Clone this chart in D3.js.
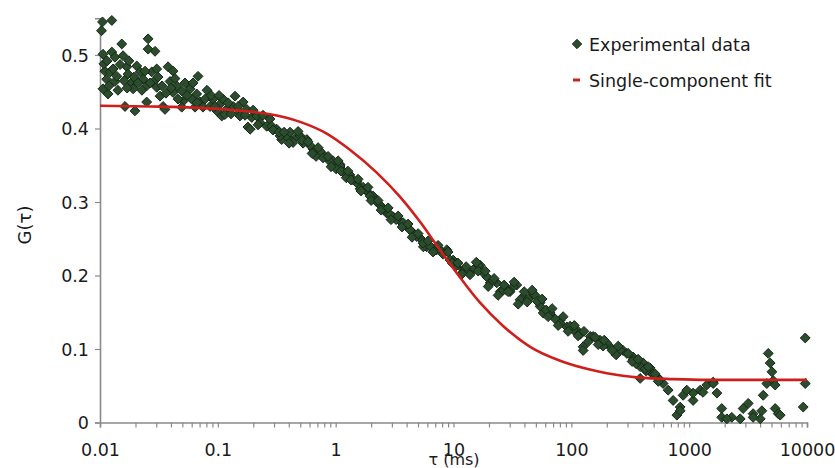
<!DOCTYPE html>
<html>
<head>
<meta charset="utf-8">
<script src="https://cdn.jsdelivr.net/npm/d3@7"></script>
<style>
  body { margin: 0; background: #fff; }
  text { font-family: "DejaVu Sans", Verdana, sans-serif; fill: #1a1a1a; }
</style>
</head>
<body>
<svg id="chart" width="835" height="468"></svg>
<script>
// experimental correlation data: lag time (ms) and G(tau)
const tauData = [
  0.0103, 0.0105, 0.0126, 0.0106, 0.0126, 0.0134, 0.0153, 0.0157, 0.0110, 0.0114,
  0.0122, 0.0134, 0.0139, 0.0106, 0.0117, 0.0169, 0.0173, 0.0186, 0.0191, 0.0163,
  0.0198, 0.0205, 0.0219, 0.0232, 0.0249, 0.0256, 0.0256, 0.0293, 0.0275, 0.0303,
  0.0282, 0.0303, 0.0249, 0.0323, 0.0343, 0.0356, 0.0378, 0.0417, 0.0393, 0.0448,
  0.0417, 0.0494, 0.0507, 0.0494, 0.0581, 0.0600, 0.0679, 0.0662, 0.0706, 0.0748,
  0.0640, 0.0779, 0.0859, 0.0910, 0.0979, 0.1044, 0.1107, 0.119, 0.108, 0.140,
  0.135, 0.154, 0.164, 0.176, 0.180, 0.194, 0.214, 0.228, 0.260, 0.277,
  0.316, 0.348, 0.385, 0.424, 0.468,
  0.115, 0.154, 0.188, 0.287, 0.337, 0.410, 0.499, 0.569, 0.435, 0.643,
  0.738, 0.813, 0.951, 1.09, 1.16, 1.32, 1.51, 1.71, 1.88, 2.08,
  2.38, 2.71, 3.07, 3.52, 4.01, 4.54, 5.20,
  0.643, 1.09, 1.51, 1.96, 2.71, 3.73, 4.88, 5.93, 7.21, 8.77,
  9.93, 12.1, 14.7, 16.8, 19.2, 23.3, 28.3, 34.4, 39.0, 47.4, 54.3,
  5.55, 7.69, 9.35, 12.1, 16.2, 17.8, 20.5, 24.9, 32.1, 36.7,
  49.3, 54.3, 66.1, 80.4, 91.6, 111, 126, 145, 175, 213,
  275, 335, 407, 467,
  57.7, 80.4, 104, 126, 153, 200, 259, 296, 335, 384,
  384, 467, 532, 601, 663, 731, 787, 839, 889, 1080,
  1240, 1410, 1600, 1720, 1890, 1890, 2300, 2710, 2870, 3170,
  3490, 4010, 4140, 4250, 4560, 4690, 4870, 5040, 5170, 5370,
  5370, 5700, 9660, 9660, 9290,
  2090, 3490, 5920, 839, 1080, 955, 1310, 1600,
  186, 240, 355, 432, 494, 567,
  0.529, 0.606, 0.682, 0.896, 1.01, 1.23, 1.41, 1.61, 1.81, 2.20,
  2.53, 2.90, 3.26, 4.28, 6.33, 10.5, 13.3, 21.7, 26.4, 30.2,
  43.0, 61.1, 72.8, 97.7, 119,
  0.0108, 0.0115, 0.0119, 0.0129, 0.0142, 0.0148, 0.0160, 0.0170, 0.0176, 0.0194,
  0.0210, 0.0227, 0.0241, 0.0266, 0.0311, 0.0336, 0.0363, 0.0401, 0.0433, 0.0459,
  0.0527, 0.0548, 0.0616, 0.0666, 0.0809, 0.0876, 0.0947, 0.1024, 0.1221, 0.1294,
  0.1485, 0.1702, 0.1990, 0.2194, 0.2419, 0.2941, 0.3307, 0.3648, 0.4022,
  0.480, 0.519, 0.583, 0.631, 0.709, 0.782, 0.862, 0.914, 1.05, 1.11,
  1.27, 1.35, 1.55, 1.64, 1.88, 2.00, 2.29, 2.43, 2.79, 2.95,
  3.39, 3.66, 4.12, 4.45, 5.01, 5.52, 6.09, 6.71, 7.40, 8.16,
  9.00, 9.73, 10.9, 11.8, 12.8, 13.8, 15.6, 16.2, 18.6, 19.7,
  22.1, 23.9, 26.9, 29.1, 32.7, 35.4, 39.8, 42.2, 46.5, 51.3,
  56.5, 63.5, 68.7, 77.3, 85.2, 93.9, 106, 114, 128, 139,
  159, 169, 190, 222, 250, 304, 328, 369, 423, 449,
  515, 546
];
const gData = [
  0.533, 0.545, 0.547, 0.501, 0.504, 0.497, 0.515, 0.499, 0.478, 0.467,
  0.477, 0.464, 0.471, 0.454, 0.447, 0.484, 0.474, 0.463, 0.454, 0.430,
  0.424, 0.485, 0.477, 0.467, 0.458, 0.522, 0.508, 0.505, 0.477, 0.481,
  0.463, 0.456, 0.436, 0.444, 0.430, 0.426, 0.484, 0.478, 0.464, 0.458,
  0.449, 0.451, 0.437, 0.429, 0.454, 0.440, 0.471, 0.447, 0.436, 0.429,
  0.429, 0.440, 0.430, 0.440, 0.424, 0.433, 0.440, 0.426, 0.417, 0.444,
  0.430, 0.422, 0.436, 0.426, 0.402, 0.415, 0.417, 0.408, 0.403, 0.413,
  0.399, 0.385, 0.389, 0.383, 0.389,
  0.419, 0.417, 0.399, 0.403, 0.390, 0.395, 0.390, 0.385, 0.381, 0.372,
  0.369, 0.362, 0.356, 0.351, 0.342, 0.337, 0.328, 0.320, 0.313, 0.308,
  0.296, 0.290, 0.280, 0.274, 0.267, 0.258, 0.251,
  0.367, 0.349, 0.326, 0.308, 0.285, 0.272, 0.253, 0.239, 0.235, 0.235,
  0.221, 0.208, 0.208, 0.214, 0.198, 0.190, 0.180, 0.187, 0.171, 0.176, 0.163,
  0.239, 0.235, 0.221, 0.205, 0.214, 0.204, 0.190, 0.178, 0.185, 0.167,
  0.173, 0.158, 0.149, 0.139, 0.130, 0.126, 0.103, 0.117, 0.112, 0.103,
  0.098, 0.089, 0.081, 0.074,
  0.149, 0.135, 0.126, 0.098, 0.117, 0.108, 0.098, 0.094, 0.085, 0.076,
  0.060, 0.069, 0.062, 0.053, 0.044, 0.030, 0.010, 0.021, 0.037, 0.030,
  0.044, 0.051, 0.055, 0.040, 0.019, 0.007, 0.007, 0.005, 0.019, 0.026,
  0.012, 0.005, 0.016, 0.037, 0.053, 0.094, 0.081, 0.069, 0.057, 0.051,
  0.019, 0.012, 0.115, 0.053, 0.021,
  0.005, 0.007, 0.010, 0.016, 0.040, 0.044, 0.041, 0.053,
  0.104, 0.092, 0.080, 0.070, 0.066, 0.058,
  0.380, 0.377, 0.362, 0.355, 0.345, 0.333, 0.330, 0.318, 0.317, 0.301,
  0.290, 0.283, 0.276, 0.262, 0.240, 0.213, 0.205, 0.193, 0.180, 0.178,
  0.168, 0.153, 0.141, 0.131, 0.120,
  0.488, 0.492, 0.458, 0.481, 0.452, 0.487, 0.465, 0.455, 0.492, 0.470,
  0.462, 0.452, 0.478, 0.462, 0.470, 0.458, 0.448, 0.455, 0.468, 0.440,
  0.462, 0.445, 0.462, 0.435, 0.452, 0.445, 0.430, 0.445, 0.435, 0.420,
  0.430, 0.418, 0.425, 0.405, 0.418, 0.398, 0.395, 0.395, 0.380,
  0.396, 0.384, 0.382, 0.366, 0.374, 0.360, 0.362, 0.348, 0.356, 0.342,
  0.342, 0.330, 0.331, 0.315, 0.320, 0.302, 0.302, 0.289, 0.292, 0.276,
  0.281, 0.266, 0.270, 0.252, 0.257, 0.244, 0.247, 0.232, 0.241, 0.229,
  0.232, 0.217, 0.217, 0.202, 0.212, 0.201, 0.218, 0.206, 0.206, 0.185,
  0.196, 0.173, 0.187, 0.178, 0.191, 0.161, 0.178, 0.164, 0.180, 0.165,
  0.168, 0.144, 0.155, 0.132, 0.144, 0.124, 0.132, 0.118, 0.124, 0.110,
  0.116, 0.106, 0.112, 0.098, 0.104, 0.094, 0.083, 0.086, 0.073, 0.076,
  0.066, 0.056
];

// single-component fit
const fitTau = [0.01, 0.0266, 0.0706, 0.135, 0.262, 0.499, 0.840, 1.32, 2.23, 3.52,
  5.20, 7.21, 10.7, 16.8, 26.5, 44.7, 80.4, 135, 200, 384, 736, 1410, 10000];
const fitG = [0.431, 0.430, 0.428, 0.425, 0.420, 0.409, 0.393, 0.371, 0.340, 0.307,
  0.273, 0.241, 0.203, 0.163, 0.131, 0.103, 0.084, 0.073, 0.067, 0.061, 0.059, 0.058, 0.058];

const xTicks = [0.01, 0.1, 1, 10, 100, 1000, 10000];
const yTicks = [0, 0.1, 0.2, 0.3, 0.4, 0.5];
const legendLabels = ['Experimental data', 'Single-component fit'];

const svg = d3.select('#chart');
const axisColor = '#8a8a8a';

const x = d3.scaleLog().domain([0.01, 10000]).range([100, 807]);
const y = d3.scaleLinear().domain([0, 0.55]).range([422.5, 18.25]);

// y axis
const yAxis = svg.append('g')
  .attr('transform', 'translate(100,0)')
  .call(d3.axisLeft(y).tickValues(yTicks).tickSize(5).tickPadding(6)
    .tickFormat(function (d) { return d === 0 ? '0' : d3.format('.1f')(d); }));
yAxis.select('.domain').attr('stroke', axisColor).attr('stroke-width', 1.6);
yAxis.selectAll('.tick line').attr('stroke', axisColor).attr('stroke-width', 1.2);
yAxis.selectAll('.tick text').style('font-size', '17.5px').attr('dy', '0.36em');

// x axis with minor log ticks
const minorTicks = x.ticks().filter(function (t) { return xTicks.indexOf(t) < 0; });
const xAxis = svg.append('g')
  .attr('transform', 'translate(0,' + y(0) + ')')
  .call(d3.axisBottom(x).tickValues(xTicks.concat(minorTicks)).tickSize(5).tickPadding(16)
    .tickFormat(function (d) { return xTicks.indexOf(d) >= 0 ? String(d) : ''; }));
xAxis.select('.domain').attr('stroke', axisColor).attr('stroke-width', 1.6);
xAxis.selectAll('.tick line').attr('stroke', axisColor).attr('stroke-width', 1.2);
xAxis.selectAll('.tick text').style('font-size', '17.5px');

// axis titles
svg.append('text')
  .attr('x', 454).attr('y', 465)
  .attr('text-anchor', 'middle')
  .style('font-size', '16px')
  .text('τ (ms)');
svg.append('text')
  .attr('transform', 'translate(31,225) rotate(-90)')
  .attr('text-anchor', 'middle')
  .style('font-size', '18px')
  .text('G(τ)');

// data points
const points = tauData.map(function (t, i) { return { tau: t, g: gData[i] }; });
const diamond = d3.symbol().type(d3.symbolDiamond2).size(62);

svg.append('g').selectAll('path')
  .data(points)
  .join('path')
  .attr('d', diamond)
  .attr('transform', function (d) { return 'translate(' + x(d.tau) + ',' + y(d.g) + ')'; })
  .attr('fill', '#2b4d2c')
  .attr('stroke', '#16281a')
  .attr('stroke-width', 1);

// fit curve
const fit = fitTau.map(function (t, i) { return { tau: t, g: fitG[i] }; });
const line = d3.line()
  .x(function (d) { return x(d.tau); })
  .y(function (d) { return y(d.g); })
  .curve(d3.curveMonotoneX);

svg.append('path')
  .datum(fit)
  .attr('d', line)
  .attr('fill', 'none')
  .attr('stroke', '#cf1f1c')
  .attr('stroke-width', 2.6);

// legend
const legend = svg.append('g');
legend.append('path')
  .attr('d', d3.symbol().type(d3.symbolDiamond2).size(56))
  .attr('transform', 'translate(577,44)')
  .attr('fill', '#2b4d2c')
  .attr('stroke', '#16281a');
legend.append('line')
  .attr('x1', 573).attr('x2', 580).attr('y1', 80).attr('y2', 80)
  .attr('stroke', '#cf1f1c').attr('stroke-width', 3);
legend.selectAll('text')
  .data(legendLabels)
  .join('text')
  .attr('x', 589)
  .attr('y', function (d, i) { return 51 + i * 36; })
  .style('font-size', '17.5px')
  .text(function (d) { return d; });
</script>
</body>
</html>
